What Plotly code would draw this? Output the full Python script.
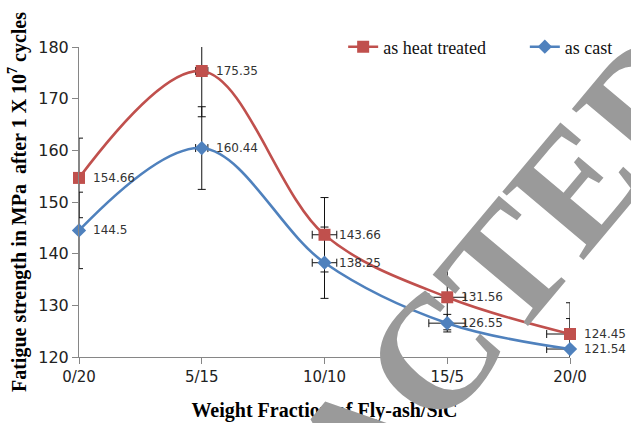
import plotly.graph_objects as go

# Composition of the reinforcement (fly-ash / SiC, wt %)
categories = ["0/20", "5/15", "10/10", "15/5", "20/0"]

# Fatigue strength (MPa) after 1 x 10^7 cycles
heat_treated = [154.66, 175.35, 143.66, 131.56, 124.45]
as_cast = [144.5, 160.44, 138.25, 126.55, 121.54]

# Scatter of the measurements
heat_treated_err_y = [7.7, 8.85, 7.2, 6.3, 6.05]
as_cast_err_y = [7.4, 8.0, 6.9, 1.7, 5.9]
heat_treated_err_x = [0.0, 0.05, 0.1, 0.15, 0.19]
as_cast_err_x = [0.0, 0.05, 0.1, 0.15, 0.19]

RED = "#C0504D"
BLUE = "#4F81BD"
AXIS = "#868686"
SERIF = "Liberation Serif, Times New Roman, serif"
SANS = "DejaVu Sans, sans-serif"

xs = list(range(len(categories)))

fig = go.Figure()

# error bars (clipped to the plotting area, drawn beneath the markers)
for vals, ey, ex in [(heat_treated, heat_treated_err_y, heat_treated_err_x),
                     (as_cast, as_cast_err_y, as_cast_err_x)]:
    fig.add_trace(go.Scatter(
        x=xs, y=vals, mode="markers",
        marker=dict(size=1, opacity=0),
        error_y=dict(type="data", array=ey, color="#111", thickness=1, width=4),
        error_x=dict(type="data", array=ex, color="#111", thickness=1, width=4),
        cliponaxis=True, showlegend=False, hoverinfo="skip",
    ))

fig.add_trace(go.Scatter(
    x=xs, y=heat_treated, name="as heat treated", mode="lines+markers",
    line=dict(color=RED, width=2.6, shape="spline", smoothing=1.0),
    marker=dict(symbol="square", size=12, color=RED),
    cliponaxis=False, legend="legend",
))
fig.add_trace(go.Scatter(
    x=xs, y=as_cast, name="as cast", mode="lines+markers",
    line=dict(color=BLUE, width=2.6, shape="spline", smoothing=1.0),
    marker=dict(symbol="diamond", size=11, color=BLUE),
    cliponaxis=False, legend="legend2",
))

annotations = []
# value labels to the right of each point
for series in (heat_treated, as_cast):
    for xi, v in zip(xs, series):
        annotations.append(dict(
            x=xi, y=v, xref="x", yref="y", text=f"{v:g}", showarrow=False,
            xanchor="left", yanchor="middle", xshift=12,
            font=dict(family=SANS, size=12, color="#333"),
        ))

# diagonal stamp across the lower right
annotations.append(dict(
    x=0.567, y=-0.281, xref="paper", yref="paper", text="<b>RETRACTED</b>",
    showarrow=False, textangle=-50, xanchor="center", yanchor="middle",
    font=dict(family=SERIF, size=162, color="#9a9a9a"),
))

legend_style = dict(
    orientation="h", y=1.0, xanchor="left", yanchor="middle",
    font=dict(family=SERIF, size=18, color="#111"),
    bgcolor="rgba(0,0,0,0)",
)

fig.update_layout(
    width=631, height=423,
    margin=dict(l=79, r=61, t=47, b=66, autoexpand=False),
    paper_bgcolor="white", plot_bgcolor="white",
    showlegend=True,
    legend=dict(x=0.538, **legend_style),
    legend2=dict(x=0.908, **legend_style),
    annotations=annotations,
)

fig.update_xaxes(
    range=[0, 4], tickvals=xs, ticktext=categories,
    showline=True, linecolor=AXIS, linewidth=1,
    ticks="outside", ticklen=6, tickcolor=AXIS,
    showgrid=False, zeroline=False, automargin=False,
    tickfont=dict(family=SANS, size=15, color="#222"),
    title=dict(text="<b>Weight Fraction of Fly-ash/SiC</b>", standoff=17,
               font=dict(family=SERIF, size=20, color="#000")),
)
fig.update_yaxes(
    range=[120, 180], dtick=10,
    showline=True, linecolor=AXIS, linewidth=1,
    ticks="outside", ticklen=6, tickcolor=AXIS,
    showgrid=False, zeroline=False, automargin=False,
    tickfont=dict(family=SANS, size=16, color="#222"),
    title=dict(text="<b>Fatigue strength in MPa  after 1 X 10<sup>7</sup> cycles</b>",
               standoff=6, font=dict(family=SERIF, size=20, color="#000")),
)

fig.write_html("out.html")
